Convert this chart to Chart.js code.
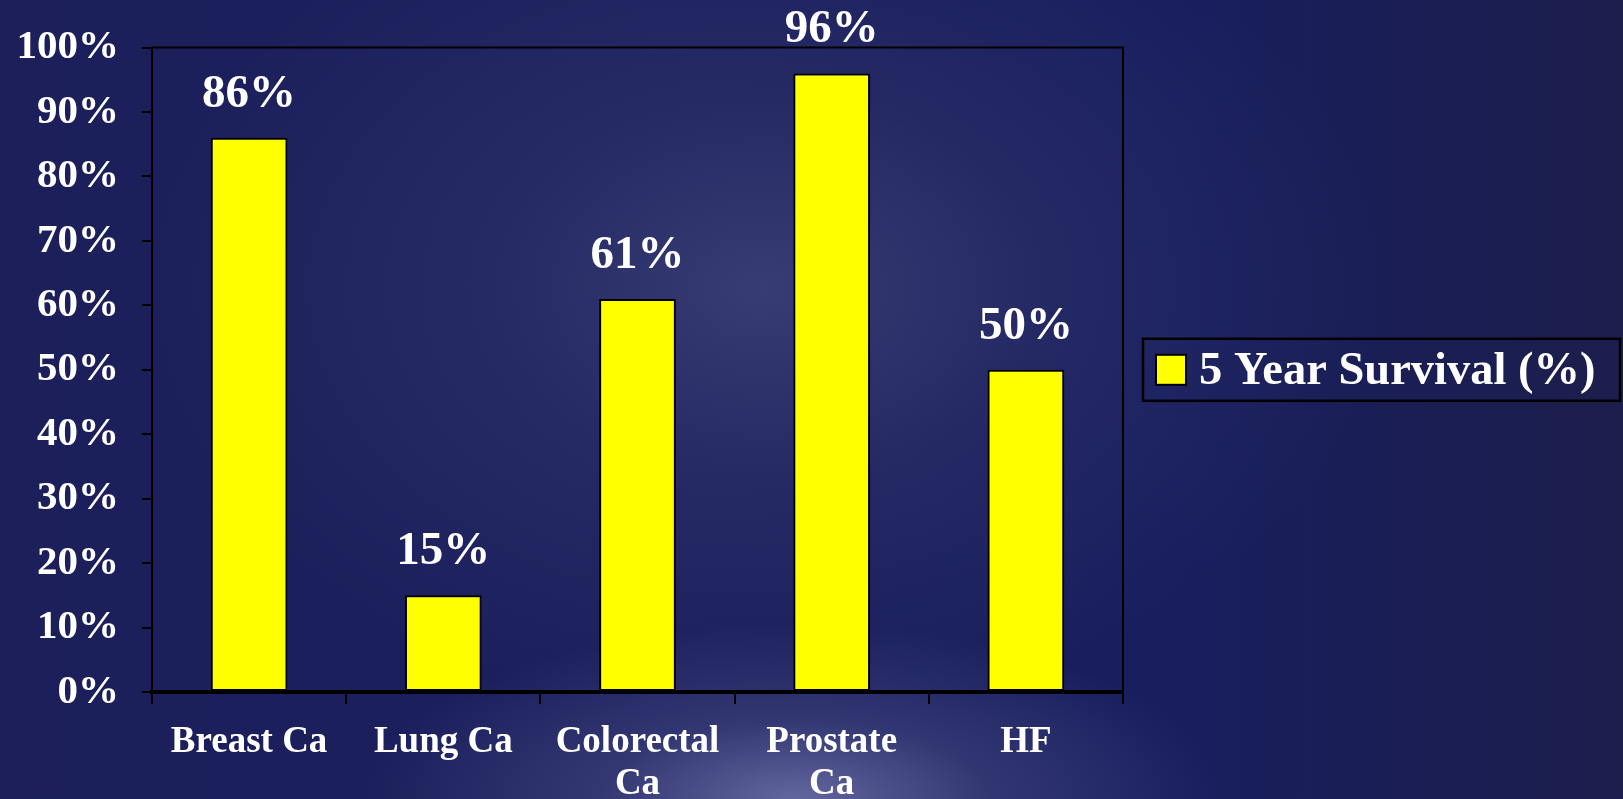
<!DOCTYPE html>
<html>
<head>
<meta charset="utf-8">
<script src="https://cdn.jsdelivr.net/npm/chart.js@4.4.1/dist/chart.umd.min.js"></script>
<style>
  html, body { margin: 0; padding: 0; }
  body {
    width: 1623px; height: 799px; overflow: hidden;
    background:
      radial-gradient(ellipse 430px 175px at 49% 100%, rgba(112,115,170,0.85) 0%, rgba(80,84,140,0.45) 45%, rgba(40,44,100,0) 100%),
      radial-gradient(ellipse 620px 430px at 47% 36%, rgba(56,60,116,1) 0%, rgba(44,48,105,0.6) 45%, rgba(28,32,92,0) 100%),
      linear-gradient(to right, #1c1f5a 0%, #1b1f5d 40%, #181e5e 72%, #1c1e4c 100%);
  }
  canvas { display: block; }
</style>
</head>
<body>
<canvas id="c" width="1623" height="799"></canvas>
<script>
const categories = [['Breast Ca'], ['Lung Ca'], ['Colorectal', 'Ca'], ['Prostate', 'Ca'], ['HF']];
const survival = [86, 15, 61, 96, 50];
const seriesName = '5 Year Survival (%)';
const yTicks = [0, 10, 20, 30, 40, 50, 60, 70, 80, 90, 100];

const FONT = "'Liberation Serif', 'Times New Roman', serif";

const frameAndLabels = {
  id: 'frameAndLabels',
  afterDatasetsDraw(chart) {
    const ctx = chart.ctx;
    const a = chart.chartArea;
    ctx.save();
    // top and right frame
    ctx.strokeStyle = '#000';
    ctx.lineWidth = 2;
    ctx.beginPath();
    ctx.moveTo(a.left, a.top);
    ctx.lineTo(a.right, a.top);
    ctx.lineTo(a.right, a.bottom);
    ctx.stroke();
    // value labels
    const meta = chart.getDatasetMeta(0);
    ctx.fillStyle = '#ffffff';
    ctx.font = 'bold 47px ' + FONT;
    ctx.textAlign = 'center';
    ctx.textBaseline = 'alphabetic';
    meta.data.forEach((bar, i) => {
      const v = chart.data.datasets[0].data[i];
      ctx.fillText(v + '%', bar.x, bar.y - 31);
    });
    ctx.restore();
  },
  afterDraw(chart) {
    // boxed legend
    const ctx = chart.ctx;
    const a = chart.chartArea;
    const ds = chart.data.datasets[0];
    const cy = (a.top + a.bottom) / 2;
    const bx = 1143, bw = 477, bh = 62;
    const by = cy - bh / 2;
    ctx.save();
    ctx.strokeStyle = '#000';
    ctx.lineWidth = 2.5;
    ctx.strokeRect(bx, by, bw, bh);
    ctx.fillStyle = ds.backgroundColor;
    ctx.fillRect(1156, cy - 15, 30, 30);
    ctx.lineWidth = 2;
    ctx.strokeRect(1156, cy - 15, 30, 30);
    ctx.fillStyle = '#ffffff';
    ctx.font = 'bold 46.5px ' + FONT;
    ctx.textAlign = 'left';
    ctx.textBaseline = 'alphabetic';
    ctx.fillText(ds.label, 1199, cy + 14);
    ctx.restore();
  }
};

new Chart(document.getElementById('c'), {
  type: 'bar',
  data: {
    labels: categories,
    datasets: [{
      label: seriesName,
      data: survival,
      backgroundColor: '#ffff00',
      borderColor: '#000000',
      borderWidth: 2,
      borderSkipped: false,
      barPercentage: 0.395,
      categoryPercentage: 1.0
    }]
  },
  options: {
    responsive: false,
    animation: false,
    layout: { padding: { top: 47, right: 500, left: 0, bottom: 0 } },
    plugins: {
      legend: { display: false },
      tooltip: { enabled: false }
    },
    scales: {
      x: {
        grid: {
          display: true, offset: true, drawOnChartArea: false,
          drawTicks: true, tickLength: 12, color: '#000', lineWidth: 2
        },
        border: { display: true, color: '#000', width: 4 },
        ticks: {
          color: '#ffffff', padding: 17, maxRotation: 0, autoSkip: false,
          font: { family: FONT, weight: 'bold', size: 37, lineHeight: 1.135 }
        },
        afterFit(scale) { scale.height = 107; }
      },
      y: {
        min: 0, max: 100,
        afterBuildTicks(scale) { scale.ticks = yTicks.map(v => ({ value: v })); },
        grid: {
          display: true, drawOnChartArea: false,
          drawTicks: true, tickLength: 10, color: '#000', lineWidth: 2
        },
        border: { display: true, color: '#000', width: 2 },
        ticks: {
          color: '#ffffff', padding: 23,
          font: { family: FONT, weight: 'bold', size: 41 },
          callback: (v) => v + '%'
        },
        afterFit(scale) { scale.width = 152; }
      }
    }
  },
  plugins: [frameAndLabels]
});
</script>
</body>
</html>
